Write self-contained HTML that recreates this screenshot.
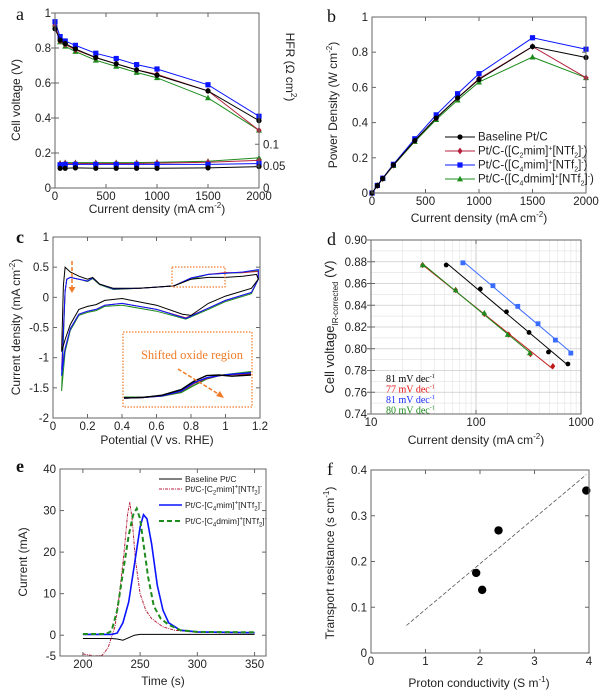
<!DOCTYPE html>
<html><head><meta charset="utf-8"><style>
html,body{margin:0;padding:0;background:#fff}
svg{display:block;font-family:"Liberation Sans",sans-serif}
.tk{font-size:11.5px;fill:#222}
.lab{font-size:12px;fill:#222}
.pl{font-family:"Liberation Serif",serif;font-size:18px;fill:#111}
</style></head><body>
<svg id="fig" width="606" height="698" viewBox="0 0 606 698"></svg>
<script>
// ---------- DATA ----------
const aX=[0,50,100,200,400,600,800,1000,1500,2000];
const aVblack=[0.91,0.845,0.825,0.795,0.745,0.71,0.675,0.645,0.555,0.385];
const aVred=[0.93,0.84,0.82,0.79,0.745,0.71,0.675,0.65,0.555,0.33];
const aVblue=[0.95,0.865,0.84,0.815,0.77,0.74,0.705,0.68,0.59,0.41];
const aVgreen=[0.935,0.835,0.81,0.78,0.73,0.695,0.66,0.63,0.515,0.33];
const aHX=[50,100,200,400,600,800,1000,1500,2000];
const aHblack=[0.045,0.045,0.046,0.045,0.045,0.045,0.045,0.046,0.049];
const aHred=[0.055,0.056,0.056,0.056,0.056,0.056,0.057,0.059,0.063];
const aHblue=[0.053,0.054,0.054,0.054,0.054,0.054,0.054,0.054,0.056];
const aHgreen=[0.057,0.058,0.058,0.058,0.058,0.058,0.059,0.061,0.069];
const bX=[0,50,100,200,400,600,800,1000,1500,2000];
const bBlack=[0,0.042,0.082,0.159,0.298,0.426,0.54,0.645,0.832,0.77];
const bRed=[0,0.042,0.082,0.158,0.298,0.426,0.54,0.65,0.832,0.655];
const bBlue=[0,0.043,0.084,0.163,0.308,0.444,0.564,0.678,0.882,0.817];
const bGreen=[0,0.042,0.081,0.156,0.292,0.417,0.528,0.63,0.772,0.655];
const cBlackX=[0.05,0.06,0.07,0.1,0.15,0.2,0.23,0.27,0.35,0.5,0.6,0.7,0.8,0.9,1.0,1.1,1.18,1.19,1.15,1.0,0.9,0.8,0.75,0.6,0.4,0.3,0.25,0.2,0.15,0.1,0.07,0.05];
const cBlackY=[-0.9,0.2,0.5,0.42,0.35,0.3,0.33,0.22,0.15,0.15,0.17,0.19,0.3,0.33,0.33,0.35,0.38,0.3,0.15,0.02,-0.1,-0.3,-0.28,-0.13,-0.02,-0.05,-0.12,-0.15,-0.2,-0.45,-0.7,-0.9];
const cOtherX=[0.05,0.07,0.08,0.1,0.15,0.2,0.23,0.27,0.35,0.5,0.6,0.7,0.8,0.9,1.0,1.1,1.19,1.19,1.15,1.0,0.9,0.77,0.6,0.4,0.3,0.25,0.2,0.15,0.1,0.07,0.05];
const cBlueY=[-1.3,0.1,0.3,0.33,0.3,0.27,0.32,0.22,0.14,0.15,0.17,0.19,0.32,0.38,0.4,0.42,0.46,0.3,0.08,-0.05,-0.18,-0.35,-0.2,-0.1,-0.13,-0.2,-0.23,-0.28,-0.52,-0.85,-1.3];
const cRedY=[-1.2,0.1,0.3,0.33,0.3,0.27,0.32,0.22,0.14,0.15,0.17,0.19,0.32,0.38,0.41,0.41,0.43,0.3,0.08,-0.05,-0.18,-0.34,-0.2,-0.1,-0.13,-0.2,-0.23,-0.28,-0.52,-0.85,-1.2];
const cGreenY=[-1.55,0.1,0.3,0.33,0.3,0.26,0.31,0.21,0.13,0.15,0.17,0.19,0.3,0.38,0.4,0.41,0.44,0.3,0.06,-0.07,-0.2,-0.36,-0.23,-0.13,-0.15,-0.22,-0.25,-0.3,-0.55,-0.9,-1.55];
const cInsX=[0,0.15,0.3,0.45,0.55,0.65,0.75,0.85,1.0];
const cInsBlack=[0,0.02,0.1,0.3,0.6,0.8,0.82,0.78,0.82];
const cInsBlue=[0,0.02,0.08,0.25,0.55,0.72,0.8,0.85,0.9];
const cInsRed=[0,0.02,0.08,0.24,0.52,0.7,0.8,0.84,0.85];
const cInsGreen=[0.03,0.03,0.07,0.2,0.45,0.68,0.8,0.86,0.94];
const dBlackX=[52,110,195,320,490,750],dBlackY=[0.877,0.855,0.834,0.815,0.797,0.786];
const dBlueX=[75,145,250,390,570,800],dBlueY=[0.879,0.858,0.839,0.823,0.808,0.796];
const dRedX=[31,64,120,205,330,540],dRedY=[0.877,0.854,0.832,0.813,0.795,0.784];
const dGreenX=[31,64,120,200,325],dGreenY=[0.877,0.854,0.833,0.813,0.796];
const dSlopes=["81 mV dec","77 mV dec","81 mV dec","80 mV dec"];
const eBlackX=[200,225,230,235,240,245,250,300,350],eBlackY=[-0.8,-0.8,-0.9,-1.2,-0.6,0,0.2,0.2,0.2];
const eRedX=[200,210,217,222,228,232,236,239,241,243,246,250,255,260,270,280,300,350];
const eRedY=[-4.5,-5,-4.8,-3,2,10,20,29,32,28,18,10,6,4,2,1.2,0.7,0.5];
const eBlueX=[200,225,230,235,240,245,250,253,256,260,265,270,275,285,300,350];
const eBlueY=[0.2,0.2,0.5,3,8,17,26,29,28,22,12,6,3,1.2,0.8,0.6];
const eGreenX=[200,220,225,230,235,240,244,247,250,253,257,262,268,275,285,300,350];
const eGreenY=[0.3,0.3,1,6,15,24,29,30.5,28,22,14,7,4,2.5,1.2,0.8,0.7];
const fX=[1.93,2.04,2.34,3.95],fY=[0.175,0.138,0.268,0.355];
const fFitX=[0.65,3.95],fFitY=[0.06,0.39];

// ---------- HELPERS ----------
const NS="http://www.w3.org/2000/svg",svg=document.getElementById('fig');
function mk(tag,at,parent){const e=document.createElementNS(NS,tag);for(const k in at)e.setAttribute(k,at[k]);(parent||svg).appendChild(e);return e;}
function lin(d0,d1,r0,r1){return v=>r0+(v-d0)/(d1-d0)*(r1-r0);}
function logS(d0,d1,r0,r1){return v=>r0+(Math.log10(v)-Math.log10(d0))/(Math.log10(d1)-Math.log10(d0))*(r1-r0);}
function txt(x,y,html,cls,anchor,rot){const t=mk('text',{x:x,y:y,'class':cls,'text-anchor':anchor||'middle'});if(rot)t.setAttribute('transform','rotate('+rot+' '+x+' '+y+')');t.innerHTML=html;return t;}
function frame(name,L,R,T,B){const r=mk('rect',{x:L,y:T,width:R-L,height:B-T,fill:'none',stroke:'#666','stroke-width':1});

}
function xticks(name,vals,labels,sx,T,B,fmt){const g=mk('g',{});


vals.forEach((v,i)=>{const x=sx(v);mk('line',{x1:x,x2:x,y1:B,y2:B-4,stroke:'#666'},g);mk('line',{x1:x,x2:x,y1:T,y2:T+4,stroke:'#666'},g);const t=txt(x,B+12,labels[i],'tk','middle');g.appendChild(t);});}
function yticks(name,vals,labels,sy,L,R,right){const g=mk('g',{});


vals.forEach((v,i)=>{const y=sy(v);mk('line',{x1:L,x2:L+4,y1:y,y2:y,stroke:'#666'},g);mk('line',{x1:R,x2:R-4,y1:y,y2:y,stroke:'#666'},g);const t=right?txt(R+4,y+4,labels[i],'tk','start'):txt(L-4,y+4,labels[i],'tk','end');g.appendChild(t);});}
function line(name,xs,ys,sx,sy,color,extra){let d='';xs.forEach((x,i)=>{d+=(i?'L':'M')+sx(x).toFixed(1)+' '+sy(ys[i]).toFixed(1);});const p=mk('path',Object.assign({d:d,fill:'none',stroke:color,'stroke-width':1},extra||{}));

return p;}
function marker(shape,x,y,color,s){s=s||2.6;let e;
if(shape==='circle')e=mk('circle',{cx:x,cy:y,r:s,fill:color});
else if(shape==='square')e=mk('rect',{x:x-s,y:y-s,width:2*s,height:2*s,fill:color});
else if(shape==='diamond')e=mk('polygon',{points:`${x},${y-s-0.8} ${x+s},${y} ${x},${y+s+0.8} ${x-s},${y}`,fill:color});
else e=mk('polygon',{points:`${x},${y-s-0.6} ${x+s+0.4},${y+s-0.2} ${x-s-0.4},${y+s-0.2}`,fill:color});

return e;}
function series(name,xs,ys,sx,sy,color,shape,s){line(name+'-line',xs,ys,sx,sy,color);xs.forEach((x,i)=>marker(shape,sx(x),sy(ys[i]),color,s));}
const K='#000',RD='#b4203c',BL='#0a14ff',GR='#1d8c1d';

// ---------- PANEL A ----------
(function(){const L=55,R=259,T=13,B=188;const sx=lin(0,2000,L,R),sy=lin(0,1,B,T),sh=lin(0,0.4,B,T);
series('a-voltage-green',aX,aVgreen,sx,sy,GR,'tri');series('a-voltage-red',aX,aVred,sx,sy,RD,'diamond');
series('a-voltage-blue',aX,aVblue,sx,sy,BL,'square');series('a-voltage-black',aX,aVblack,sx,sy,K,'circle');
series('a-hfr-green',aHX,aHgreen,sx,sh,GR,'tri');series('a-hfr-red',aHX,aHred,sx,sh,RD,'diamond');
series('a-hfr-blue',aHX,aHblue,sx,sh,BL,'square');series('a-hfr-black',aHX,aHblack,sx,sh,K,'circle');
frame('a',L,R,T,B);
xticks('a',[0,500,1000,1500,2000],['0','500','1000','1500','2000'],sx,T,B);
yticks('a',[0,0.2,0.4,0.6,0.8,1],['0','0.2','0.4','0.6','0.8','1'],sy,L,L);
const g=mk('g',{});
[0,0.05,0.1].forEach(v=>{const y=sh(v);mk('line',{x1:R,x2:R-4,y1:y,y2:y,stroke:'#666'},g);g.appendChild(txt(R+4,y+4,String(v),'tk','start'));});
const t1=txt(20,100,'Cell voltage (V)','lab','middle',-90);
const t2=txt(286,67,'HFR (Ω cm<tspan dy="-5" font-size="8">2</tspan><tspan dy="5">)</tspan>','lab','middle',90);
const t3=txt(157,213,'Current density (mA cm<tspan dy="-5" font-size="8">-2</tspan><tspan dy="5">)</tspan>','lab');
const p=txt(16,20,'a','pl','start');})();

// ---------- PANEL B ----------
(function(){const L=372,R=586,T=17,B=193;const sx=lin(0,2000,L,R),sy=lin(0,1,B,T);
series('b-green',bX,bGreen,sx,sy,GR,'tri');series('b-red',bX,bRed,sx,sy,RD,'diamond');
series('b-blue',bX,bBlue,sx,sy,BL,'square');series('b-black',bX,bBlack,sx,sy,K,'circle');
frame('b',L,R,T,B);
xticks('b',[0,500,1000,1500,2000],['0','500','1000','1500','2000'],sx,T,B);
yticks('b',[0,0.2,0.4,0.6,0.8,1],['0','0.2','0.4','0.6','0.8','1'],sy,L,R);
const legs=[['Baseline Pt/C',K,'circle'],['Pt/C-([C<tspan dy="3" font-size="7">2</tspan><tspan dy="-3">mim]</tspan><tspan dy="-4" font-size="7">+</tspan><tspan dy="4">[NTf</tspan><tspan dy="3" font-size="7">2</tspan><tspan dy="-3">]</tspan><tspan dy="-4" font-size="7">-</tspan><tspan dy="4">)</tspan>',RD,'diamond'],
['Pt/C-([C<tspan dy="3" font-size="7">4</tspan><tspan dy="-3">mim]</tspan><tspan dy="-4" font-size="7">+</tspan><tspan dy="4">[NTf</tspan><tspan dy="3" font-size="7">2</tspan><tspan dy="-3">]</tspan><tspan dy="-4" font-size="7">-</tspan><tspan dy="4">)</tspan>',BL,'square'],
['Pt/C-([C<tspan dy="3" font-size="7">4</tspan><tspan dy="-3">dmim]</tspan><tspan dy="-4" font-size="7">+</tspan><tspan dy="4">[NTf</tspan><tspan dy="3" font-size="7">2</tspan><tspan dy="-3">]</tspan><tspan dy="-4" font-size="7">-</tspan><tspan dy="4">)</tspan>',GR,'tri']];
legs.forEach((l,i)=>{const y=137+i*14;const ln=mk('line',{x1:445,x2:475,y1:y,y2:y,stroke:l[1]});marker(l[2],460,y,l[1]);
const t=txt(478,y+3.5,l[0],'tk','start');t.setAttribute('font-size','9.5');});
const t1=txt(337,105,'Power Density (W cm<tspan dy="-5" font-size="8">-2</tspan><tspan dy="5">)</tspan>','lab','middle',-90);
const t3=txt(479,222,'Current density (mA cm<tspan dy="-5" font-size="8">-2</tspan><tspan dy="5">)</tspan>','lab');
const p=txt(327,22,'b','pl','start');})();

// ---------- PANEL C ----------
(function(){const L=53,R=260,T=237,B=418;const sx=lin(0,1.2,L,R),sy=lin(-2,1,B,T);
line('c-green',cOtherX,cGreenY,sx,sy,GR);line('c-red',cOtherX,cRedY,sx,sy,RD);line('c-blue',cOtherX,cBlueY,sx,sy,BL);line('c-black',cBlackX,cBlackY,sx,sy,K);
frame('c',L,R,T,B);
xticks('c',[0,0.2,0.4,0.6,0.8,1,1.2],['0','0.2','0.4','0.6','0.8','1','1.2'],sx,T,B);
yticks('c',[-2,-1.5,-1,-0.5,0,0.5,1],['-2','-1.5','-1','-0.5','0','0.5','1'],sy,L,R);
const O='#f07c28';
const b1=mk('rect',{x:172,y:267,width:53,height:20,fill:'none',stroke:O,'stroke-dasharray':'1.5 1.5','stroke-width':1.2});
const b2=mk('rect',{x:123,y:332,width:129,height:75,fill:'none',stroke:O,'stroke-dasharray':'1.5 1.5','stroke-width':1.2});
const ix=lin(0,1,124,251),iy=lin(0,1,398,370);
line('c-inset-green',cInsX,cInsGreen,ix,iy,GR,{'stroke-width':1.4});line('c-inset-red',cInsX,cInsRed,ix,iy,RD,{'stroke-width':1.4});line('c-inset-blue',cInsX,cInsBlue,ix,iy,BL,{'stroke-width':1.4});line('c-inset-black',cInsX,cInsBlack,ix,iy,K,{'stroke-width':1.4});
const it=txt(192,359,'Shifted oxide region','lab','middle');it.setAttribute('style','fill:'+O+';font-family:"Liberation Serif",serif;font-size:12.5px');
const a1=mk('line',{x1:72,y1:261,x2:72,y2:288,stroke:O,'stroke-width':1.5,'stroke-dasharray':'4 2'});
const h1=mk('polygon',{points:'68.5,287 75.5,287 72,293',fill:O});
const a2=mk('line',{x1:178,y1:369,x2:220,y2:395,stroke:O,'stroke-width':1.5,'stroke-dasharray':'4 2'});
const h2=mk('polygon',{points:'224,398 216,396 220,391',fill:O});
const t1=txt(20,327,'Current density (mA cm<tspan dy="-5" font-size="8">-2</tspan><tspan dy="5">)</tspan>','lab','middle',-90);
const t3=txt(157,444,'Potential (V vs. RHE)','lab');
const p=txt(16,243,'c','pl','start');p.setAttribute('style','font-weight:bold');})();

// ---------- PANEL D ----------
(function(){const L=371,R=581,T=240,B=414;const sx=logS(10,1000,L,R),sy=lin(0.74,0.90,B,T);
const g=mk('g',{});
[20,30,40,50,60,70,80,90,200,300,400,500,600,700,800,900].forEach(v=>mk('line',{x1:sx(v),x2:sx(v),y1:T,y2:B,stroke:'#e6e6e6','stroke-width':0.7},g));
[100].forEach(v=>mk('line',{x1:sx(v),x2:sx(v),y1:T,y2:B,stroke:'#ccc'},g));
for(let v=0.75;v<0.9;v+=0.01)mk('line',{x1:L,x2:R,y1:sy(v),y2:sy(v),stroke:(Math.round(v*100)%2===0)?'#ccc':'#e6e6e6','stroke-width':0.7},g);
function fit(name,xs,ys,color,shape){const lx=xs.map(Math.log10),n=xs.length;const mx=lx.reduce((a,b)=>a+b)/n,my=ys.reduce((a,b)=>a+b)/n;let sxy=0,sxx=0;lx.forEach((x,i)=>{sxy+=(x-mx)*(ys[i]-my);sxx+=(x-mx)*(x-mx);});const m=sxy/sxx,b=my-m*mx;
const x0=xs[0],x1=xs[n-1];line(name+'-fit',[x0,x1],[m*Math.log10(x0)+b,m*Math.log10(x1)+b],sx,sy,color);xs.forEach((x,i)=>marker(shape,sx(x),sy(ys[i]),color,2.4));}
fit('d-black',dBlackX,dBlackY,K,'circle');fit('d-blue',dBlueX,dBlueY,'#3a6cff','square');fit('d-red',dRedX,dRedY,'#c01818','diamond');fit('d-green',dGreenX,dGreenY,GR,'tri');
frame('d',L,R,T,B);
xticks('d',[10,100,1000],['10','100','1000'],sx,T,B);
const yv=[],yl=[];for(let i=0;i<=8;i++){yv.push(0.74+i*0.02);yl.push((0.74+i*0.02).toFixed(2));}
yticks('d',yv,yl,sy,L,L);
const cols=[K,'#e01010','#1a2cff',GR];
dSlopes.forEach((s,i)=>{const t=txt(386,382+i*10.5,s+'<tspan dy="-4" font-size="6">-1</tspan>','tk','start');t.setAttribute('style','fill:'+cols[i]+';font-family:"Liberation Serif",serif;font-size:10px');});
const t1=txt(334,327,'Cell voltage<tspan dy="4" font-size="8">IR-corrected</tspan><tspan dy="-4"> (V)</tspan>','lab','middle',-90);t1.setAttribute('style','font-size:13px');
const t3=txt(476,444,'Current density (mA cm<tspan dy="-5" font-size="8">-2</tspan><tspan dy="5">)</tspan>','lab');
const p=txt(327,245,'d','pl','start');})();

// ---------- PANEL E ----------
(function(){const L=60,R=266,T=469,B=656;const sx=lin(180,360,L,R),sy=lin(-5,40,B,T);
line('e-black',eBlackX,eBlackY,sx,sy,K);
line('e-red',eRedX,eRedY,sx,sy,RD,{'stroke-dasharray':'3 1 1 1'});
line('e-blue',eBlueX,eBlueY,sx,sy,BL,{'stroke-width':1.6});
line('e-green',eGreenX,eGreenY,sx,sy,GR,{'stroke-width':2,'stroke-dasharray':'5 3'});
frame('e',L,R,T,B);
xticks('e',[200,250,300,350],['200','250','300','350'],sx,T,B);
yticks('e',[-5,0,10,20,30,40],['-5','0','10','20','30','40'],sy,L,R);
const sub=(a,b)=>'Pt/C-[C<tspan dy="2.5" font-size="6">'+a+'</tspan><tspan dy="-2.5">'+b+']</tspan><tspan dy="-3.5" font-size="6">+</tspan><tspan dy="3.5">[NTf</tspan><tspan dy="2.5" font-size="6">2</tspan><tspan dy="-2.5">]</tspan><tspan dy="-3.5" font-size="6">-</tspan>';
const legs=[['Baseline Pt/C',K,{}],[sub('2','mim'),RD,{'stroke-dasharray':'3 1 1 1'}],[sub('4','mim'),BL,{'stroke-width':1.6}],[sub('4','dmim'),GR,{'stroke-width':2,'stroke-dasharray':'5 3'}]];
[479,489,505,521].forEach((y,i)=>{const l=legs[i];const ln=mk('line',Object.assign({x1:159,x2:182,y1:y,y2:y,stroke:l[1]},l[2]));
const t=txt(185,y+3,l[0],'tk','start');t.setAttribute('style','font-size:8.5px');});
const t1=txt(27,562,'Current (mA)','lab','middle',-90);
const t3=txt(163,685,'Time (s)','lab');
const p=txt(16,472,'e','pl','start');p.setAttribute('style','font-weight:bold');})();

// ---------- PANEL F ----------
(function(){const L=371,R=589,T=470,B=653;const sx=lin(0,4,L,R),sy=lin(0,0.4,B,T);
line('f-fit-line',fFitX,fFitY,sx,sy,'#555',{'stroke-dasharray':'4 2','stroke-width':0.8});
fX.forEach((x,i)=>marker('circle',sx(x),sy(fY[i]),K,4.2));
frame('f',L,R,T,B);
xticks('f',[0,1,2,3,4],['0','1','2','3','4'],sx,T,B);
yticks('f',[0,0.1,0.2,0.3,0.4],['0','0.1','0.2','0.3','0.4'],sy,L,R);
const t1=txt(334,563,'Transport resistance (s cm<tspan dy="-5" font-size="8">-1</tspan><tspan dy="5">)</tspan>','lab','middle',-90);
const t3=txt(479,687,'Proton conductivity (S m<tspan dy="-5" font-size="8">-1</tspan><tspan dy="5">)</tspan>','lab');
const p=txt(327,475,'f','pl','start');})();
</script>
</body></html>
